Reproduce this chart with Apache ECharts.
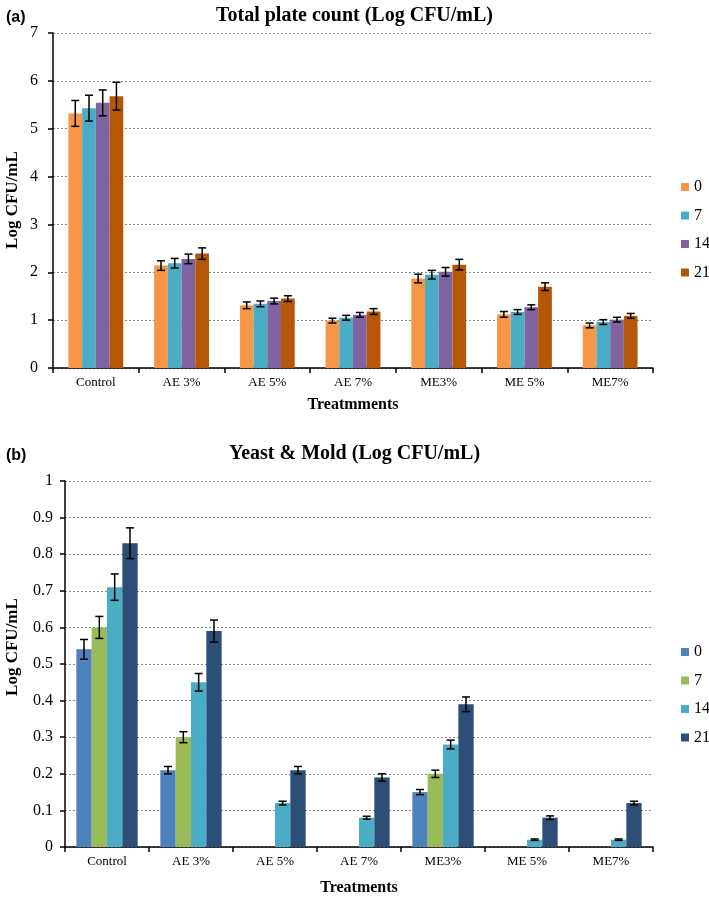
<!DOCTYPE html>
<html>
<head>
<meta charset="utf-8">
<script src="https://cdn.jsdelivr.net/npm/echarts@6/dist/echarts.min.js"></script>
<style>
html,body{margin:0;padding:0;background:#fff;}
#a{position:absolute;left:0;top:0;width:709px;height:440px;}
#b{position:absolute;left:0;top:440px;width:709px;height:461px;}
</style>
</head>
<body>
<div id="a"></div>
<div id="b"></div>
<script>
const categories = ['Control', 'AE 3%', 'AE 5%', 'AE 7%', 'ME3%', 'ME 5%', 'ME7%'];
const days = ['0', '7', '14', '21'];

// (a) Total plate count
const tpc0  = [5.32, 2.14, 1.31, 0.99, 1.87, 1.12, 0.89];
const tpc7  = [5.43, 2.19, 1.34, 1.05, 1.95, 1.17, 0.96];
const tpc14 = [5.54, 2.28, 1.40, 1.11, 2.01, 1.27, 1.01];
const tpc21 = [5.68, 2.39, 1.45, 1.18, 2.16, 1.70, 1.09];
const tpcErr0  = [0.27, 0.10, 0.07, 0.05, 0.09, 0.06, 0.05];
const tpcErr7  = [0.27, 0.10, 0.06, 0.05, 0.09, 0.05, 0.05];
const tpcErr14 = [0.27, 0.10, 0.06, 0.05, 0.09, 0.05, 0.05];
const tpcErr21 = [0.29, 0.12, 0.06, 0.06, 0.11, 0.08, 0.05];

// (b) Yeast & Mold
const ym0  = [0.54, 0.21, 0, 0, 0.15, 0, 0];
const ym7  = [0.60, 0.30, 0, 0, 0.20, 0, 0];
const ym14 = [0.71, 0.45, 0.12, 0.08, 0.28, 0.02, 0.02];
const ym21 = [0.83, 0.59, 0.21, 0.19, 0.39, 0.08, 0.12];
const ymErr0  = [0.027, 0.010, 0, 0, 0.007, 0, 0];
const ymErr7  = [0.030, 0.015, 0, 0, 0.010, 0, 0];
const ymErr14 = [0.036, 0.024, 0.005, 0.004, 0.012, 0.002, 0.002];
const ymErr21 = [0.042, 0.030, 0.010, 0.010, 0.020, 0.005, 0.005];

const colorsA = ['#F79646', '#4BACC6', '#8064A2', '#B65708'];
const colorsB = ['#4F81BD', '#9BBB59', '#4BACC6', '#2C4D75'];

const SERIF = '"Liberation Serif", "DejaVu Serif", serif';

function buildOption(cfg) {
  const n = cfg.values.length;
  const gapFrac = cfg.gap;
  const series = [];
  cfg.values.forEach((vals, i) => {
    series.push({
      name: days[i], type: 'bar', data: vals, barGap: '0%',
      barCategoryGap: (gapFrac * 100) + '%',
      itemStyle: { color: cfg.colors[i] },
      emphasis: { disabled: true }
    });
  });
  cfg.values.forEach((vals, i) => {
    const data = vals.map((v, k) => [k, v, cfg.errs[i][k]]);
    series.push({
      type: 'custom', silent: true, z: 10,
      data: data,
      encode: { x: 0, y: 1 },
      renderItem: function (params, api) {
        const k = api.value(0), v = api.value(1), e = api.value(2);
        if (!e) return null;
        const band = api.size([1, 0])[0];
        const bw = band * (1 - gapFrac) / n;
        const center = api.coord([k, v])[0];
        const x = center - bw * n / 2 + bw * (i + 0.5);
        const yT = api.coord([k, v + e])[1];
        const yB = api.coord([k, v - e])[1];
        const cap = 4;
        const st = { stroke: '#000', lineWidth: 1.5 };
        return {
          type: 'group', children: [
            { type: 'line', shape: { x1: x, y1: yT, x2: x, y2: yB }, style: st },
            { type: 'line', shape: { x1: x - cap, y1: yT, x2: x + cap, y2: yT }, style: st },
            { type: 'line', shape: { x1: x - cap, y1: yB, x2: x + cap, y2: yB }, style: st }
          ]
        };
      }
    });
  });
  return {
    animation: false,
    title: [
      { text: cfg.title, left: 'center', top: cfg.titleTop,
        textStyle: { fontFamily: SERIF, fontWeight: 'bold', fontSize: 20, color: '#000' } },
      { text: cfg.tag, left: 1, top: cfg.tagTop,
        textStyle: { fontFamily: '"Liberation Sans", Arial, sans-serif', fontWeight: 'bold', fontSize: 16, color: '#000' } }
    ],
    graphic: [{
      type: 'text', x: cfg.yNameX, y: cfg.yNameY, rotation: Math.PI / 2,
      style: { text: 'Log CFU/mL', fontFamily: SERIF, fontWeight: 'bold', fontSize: 17,
               fill: '#000', align: 'center', verticalAlign: 'middle' }
    }],
    legend: {
      orient: 'vertical', left: 676, top: cfg.legendTop,
      itemWidth: 8, itemHeight: 8, itemGap: 12.5,
      icon: 'rect',
      data: days,
      textStyle: { fontFamily: SERIF, fontSize: 16, color: '#000', lineHeight: 16 },
      selectedMode: false
    },
    grid: cfg.grid,
    xAxis: {
      type: 'category', data: categories,
      name: cfg.xName, nameLocation: 'middle', nameGap: cfg.xNameGap,
      nameTextStyle: { fontFamily: SERIF, fontWeight: 'bold', fontSize: 16, color: '#000' },
      axisLine: { lineStyle: { color: '#000', width: 1.5 } },
      axisTick: { show: true, length: 5, lineStyle: { color: '#000', width: 1.5 } },
      axisLabel: { fontFamily: SERIF, fontSize: 13, color: '#000', margin: 8 },
      splitLine: { show: false }
    },
    yAxis: {
      type: 'value', min: 0, max: cfg.ymax, interval: cfg.interval,
      axisLine: { show: true, lineStyle: { color: '#000', width: 1.5 } },
      axisTick: { show: true, length: 5, lineStyle: { color: '#000', width: 1.5 } },
      axisLabel: { fontFamily: SERIF, fontSize: 16, color: '#000', margin: cfg.yLabelMargin },
      splitLine: { show: true, lineStyle: { color: '#8a8a8a', type: [2, 2], width: 1 } }
    },
    series: series
  };
}

const chartA = echarts.init(document.getElementById('a'));
chartA.setOption(buildOption({
  title: 'Total plate count (Log CFU/mL)', tag: '(a)', titleTop: 1, tagTop: 5,
  values: [tpc0, tpc7, tpc14, tpc21], errs: [tpcErr0, tpcErr7, tpcErr14, tpcErr21],
  colors: colorsA, gap: 0.36, ymax: 7, interval: 1,
  grid: { left: 53, right: 56, top: 33, bottom: 72 },
  xName: 'Treatmments', xNameGap: 29, yLabelMargin: 15,
  yNameX: 13, yNameY: 200,
  legendTop: 174
}));

const chartB = echarts.init(document.getElementById('b'));
chartB.setOption(buildOption({
  title: 'Yeast & Mold (Log CFU/mL)', tag: '(b)', titleTop: -1, tagTop: 3,
  values: [ym0, ym7, ym14, ym21], errs: [ymErr0, ymErr7, ymErr14, ymErr21],
  colors: colorsB, gap: 0.27, ymax: 1, interval: 0.1,
  grid: { left: 65, right: 56, top: 41, bottom: 51 },
  xName: 'Treatments', xNameGap: 33, yLabelMargin: 12,
  yNameX: 13, yNameY: 207,
  legendTop: 199
}));
</script>
</body>
</html>
